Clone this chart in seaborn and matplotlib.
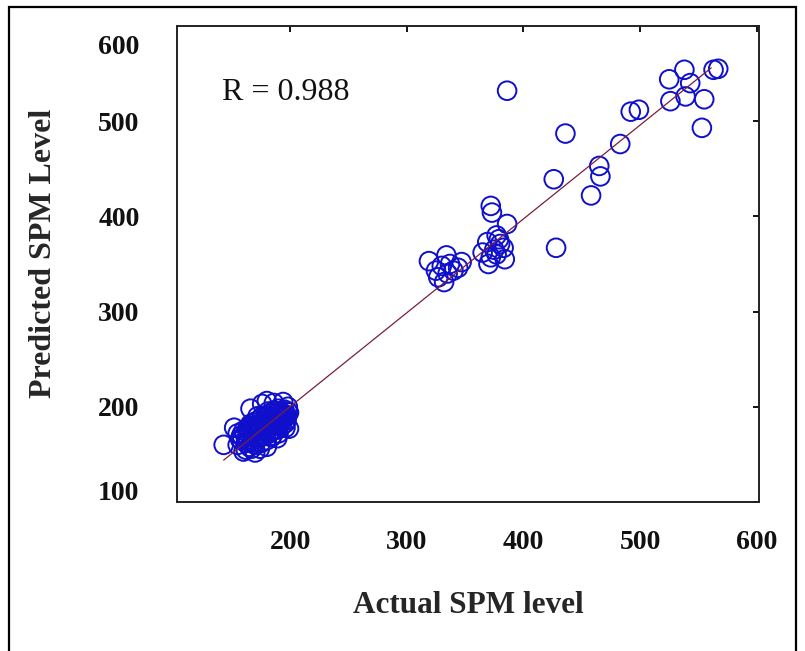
import numpy as np
import matplotlib
matplotlib.use("Agg")
import matplotlib.pyplot as plt
from matplotlib.patches import Rectangle
from matplotlib.transforms import ScaledTranslation
import seaborn as sns

# actual vs predicted SPM
# high range (> 400)
actual_high = [436, 492, 499, 483, 465, 466, 426, 458, 428, 538, 563, 567,
               525, 543, 539, 526, 555, 553, 386]
pred_high = [487, 510, 512, 476, 453, 442, 439, 422, 367, 554, 554, 555,
             544, 540, 526, 521, 523, 493, 532]

# middle range (300 - 400)
actual_mid = [372, 373, 386, 377, 369, 380, 365, 377, 384, 370, 372, 383, 375, 379,
              319, 334, 337, 325, 327, 332, 344, 347, 340, 330, 335]
pred_mid = [411, 404, 392, 380, 373, 371, 362, 360, 355, 350, 357, 367, 365, 376,
            353, 359, 350, 343, 336, 331, 346, 352, 343, 348, 340]

# low range (dense blob 140 - 200)
actual_low = [143, 152, 155, 158, 160, 166, 170, 172, 176, 180, 180, 186, 189, 194,
              198, 199, 199, 197, 155, 158, 160, 162, 163, 165, 165, 166, 168, 168,
              170, 170, 171, 172, 174, 175, 175, 176, 177, 178, 179, 180, 181, 182,
              183, 184, 185, 186, 187, 188, 189, 190, 191, 192, 193, 194, 195, 196,
              197, 162, 167, 174, 184, 190,
              157, 161, 164, 167, 169, 171, 173, 176, 178, 181, 183, 185, 187, 190,
              192, 195, 196, 198, 163, 169, 174, 179, 186, 191,
              159, 164, 168, 172, 175, 178, 182, 185, 188, 191, 194, 196, 170, 177,
              183, 189, 166, 180, 187, 193]
pred_low = [160, 178, 172, 165, 153, 198, 152, 190, 203, 206, 158, 204, 167, 205,
            200, 194, 177, 186, 160, 170, 175, 162, 168, 158, 175, 182, 165, 172,
            160, 178, 185, 168, 175, 162, 182, 190, 170, 178, 186, 165, 195, 172,
            180, 188, 175, 196, 182, 190, 176, 198, 185, 192, 180, 188, 197, 183,
            191, 155, 156, 156, 168, 172,
            166, 171, 164, 170, 177, 166, 181, 172, 184, 176, 193, 170, 186, 180,
            188, 190, 178, 195, 176, 183, 168, 191, 185, 195,
            168, 172, 175, 180, 177, 182, 186, 182, 184, 189, 193, 189, 163, 174,
            174, 181, 180, 190, 193, 185]

actual = actual_low + actual_mid + actual_high
predicted = pred_low + pred_mid + pred_high

# fitted line end points
fit_x = [143, 561]
fit_y = [144, 556]

sns.set_style("white")
plt.rcParams['font.family'] = ['Liberation Serif', 'DejaVu Serif']

fig = plt.figure(figsize=(8.05, 6.51), dpi=100)
ax = fig.add_axes([0.2199, 0.2289, 0.723, 0.7312])

sns.scatterplot(x=actual, y=predicted, ax=ax, marker='o', s=180,
                facecolor='none', edgecolor='#1010cc', linewidth=1.4, zorder=2)
sns.lineplot(x=fit_x, y=fit_y, ax=ax, color='#7a1f3d', linewidth=0.9, zorder=3)

ax.set_xlim(103, 602)
ax.set_ylim(100, 600)
ax.set_xticks([200, 300, 400, 500, 600])
ax.set_yticks([100, 200, 300, 400, 500, 600])

for s in ax.spines.values():
    s.set_visible(True)
    s.set_linewidth(1.4)
    s.set_color('#222222')

ax.tick_params(direction='in', length=4, width=1.4, top=True, right=True,
               labelsize=20, colors='#111111')
ax.tick_params(axis='x', pad=20)
ax.tick_params(axis='y', pad=27)
for lab in ax.get_xticklabels() + ax.get_yticklabels():
    lab.set_fontweight('bold')

# scanned labels 600 and 100 sit a bit off their ticks
yt = ax.yaxis.get_major_ticks()
yt[-1].label1.set_transform(yt[-1].label1.get_transform() +
                            ScaledTranslation(0, -0.19, fig.dpi_scale_trans))
yt[0].label1.set_transform(yt[0].label1.get_transform() +
                           ScaledTranslation(0, 0.11, fig.dpi_scale_trans))

ax.set_xlabel('Actual SPM level', fontsize=22.5, fontweight='bold', labelpad=26)
ax.set_ylabel('Predicted SPM Level', fontsize=23, fontweight='bold')
ax.yaxis.set_label_coords(-0.205, 0.523)

ax.text(0.077, 0.861, 'R = 0.988', transform=ax.transAxes, fontsize=23,
        ha='left', va='center', color='#111111')

# frame around the figure (left, top, right)
fig.add_artist(Rectangle((9 / 805, -0.1), 787 / 805, 1.1 - 7.5 / 651,
                         transform=fig.transFigure, fill=False,
                         edgecolor='black', linewidth=1.6, clip_on=False))

fig.savefig('out.png', dpi=100)
